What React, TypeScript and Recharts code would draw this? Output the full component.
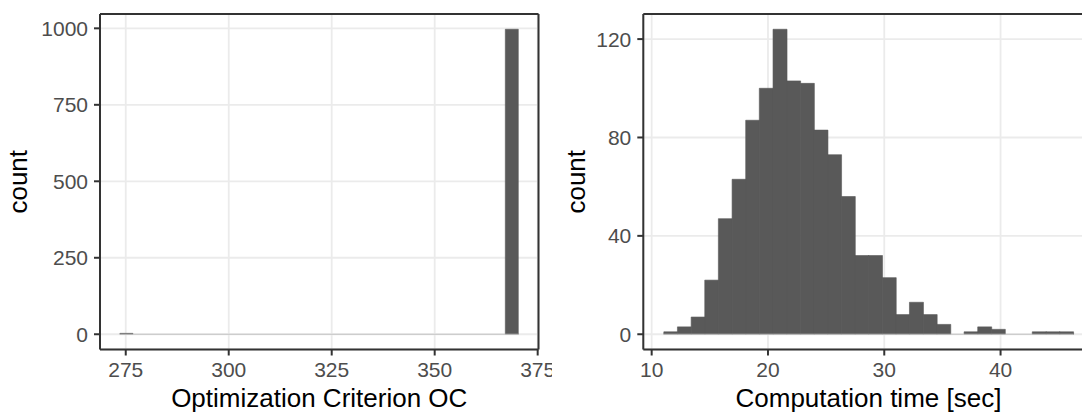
import { Bar, CartesianGrid, ComposedChart, ReferenceLine, XAxis, YAxis } from "recharts";

const FONT = '"Liberation Sans", Arial, Helvetica, sans-serif';
const INK = "#333333";
const FILL = "#595959";

// left panel: optimization criterion, 30 bins
const ocMids = [
  275.2, 278.43, 281.65, 284.88, 288.1, 291.33, 294.56, 297.78, 301.01, 304.23,
  307.46, 310.69, 313.91, 317.14, 320.36, 323.59, 326.82, 330.04, 333.27, 336.49,
  339.72, 342.95, 346.17, 349.4, 352.62, 355.85, 359.08, 362.3, 365.53, 368.75,
];
const ocCounts = [
  3, 0, 0, 0, 0, 0, 0, 0, 0, 0,
  0, 0, 0, 0, 0, 0, 0, 0, 0, 0,
  0, 0, 0, 0, 0, 0, 0, 0, 0, 997,
];
const ocTicksX = [275, 300, 325, 350, 375];
const ocMinorX = [287.5, 312.5, 337.5, 362.5];
const ocTicksY = [0, 250, 500, 750, 1000];
const ocMinorY = [125, 375, 625, 875];

// right panel: computation time, 30 bins
const timeMids = [
  11.63, 12.8, 13.98, 15.15, 16.32, 17.5, 18.67, 19.84, 21.02, 22.19,
  23.37, 24.54, 25.71, 26.89, 28.06, 29.23, 30.41, 31.58, 32.75, 33.93,
  35.1, 36.27, 37.45, 38.62, 39.79, 40.97, 42.14, 43.31, 44.49, 45.66,
];
const timeCounts = [
  1, 3, 7, 22, 47, 63, 87, 100, 124, 103,
  102, 83, 73, 56, 32, 32, 23, 8, 13, 8,
  4, 0, 1, 3, 2, 0, 0, 1, 1, 1,
];
const timeTicksX = [10, 20, 30, 40];
const timeMinorX = [15, 25, 35, 45];
const timeTicksY = [0, 40, 80, 120];
const timeMinorY = [20, 60, 100];

type PanelProps = {
  mids: number[];
  counts: number[];
  xDomain: [number, number];
  yDomain: [number, number];
  xTicks: number[];
  yTicks: number[];
  xMinor: number[];
  yMinor: number[];
  xTitle: string;
  left: number;
  width: number;
  yAxisWidth: number;
  rightPad: number;
  countX: number;
};

function Histogram(p: PanelProps) {
  const rows = p.mids.map((mid, i) => ({ mid, count: p.counts[i] }));
  const half = (p.mids[1] - p.mids[0]) / 2;
  const last = p.mids[p.mids.length - 1];
  const tick = { fontSize: 21, fill: "#4D4D4D", fontFamily: FONT };
  const line = { stroke: INK, strokeWidth: 2 };

  return (
    <div style={{ position: "absolute", left: p.left, top: 0, width: p.width, height: 414, overflow: "hidden" }}>
      <ComposedChart
        width={p.width}
        height={414}
        data={rows}
        margin={{ top: 13, right: p.rightPad - 1, bottom: 0, left: 0 }}
        barCategoryGap={0}
        barGap={0}
      >
        {/* minor grid sits on the top/right axes, which also draw the panel border */}
        <CartesianGrid xAxisId="top" yAxisId="right" stroke="#EBEBEB" strokeWidth={0.9} />
        <CartesianGrid stroke="#EBEBEB" strokeWidth={1.8} />
        <XAxis
          dataKey="mid"
          type="number"
          domain={p.xDomain}
          ticks={p.xTicks}
          interval={0}
          height={64.5}
          tickSize={6}
          tickMargin={6.3}
          tick={tick}
          tickLine={line}
          axisLine={line}
          label={{
            content: ({ viewBox }: any) => (
              <text
                x={viewBox.x + viewBox.width / 2}
                y={viewBox.y + 57.5}
                textAnchor="middle"
                fontSize={26}
                fontFamily={FONT}
                fill="#000"
              >
                {p.xTitle}
              </text>
            ),
          }}
        />
        <XAxis
          xAxisId="top"
          orientation="top"
          dataKey="mid"
          type="number"
          domain={p.xDomain}
          ticks={p.xMinor}
          interval={0}
          height={1}
          tick={false}
          tickLine={false}
          axisLine={line}
        />
        <YAxis
          type="number"
          domain={p.yDomain}
          ticks={p.yTicks}
          interval={0}
          width={p.yAxisWidth}
          tickSize={6}
          tickMargin={6}
          tick={tick}
          tickLine={line}
          axisLine={line}
          label={{
            content: ({ viewBox }: any) => {
              const x = viewBox.x + p.countX;
              const y = viewBox.y + viewBox.height / 2;
              return (
                <text x={x} y={y} transform={`rotate(-90 ${x} ${y})`} textAnchor="middle" fontSize={26} fontFamily={FONT} fill="#000">
                  count
                </text>
              );
            },
          }}
        />
        <YAxis
          yAxisId="right"
          orientation="right"
          type="number"
          domain={p.yDomain}
          ticks={p.yMinor}
          interval={0}
          width={1}
          tick={false}
          tickLine={false}
          axisLine={line}
        />
        <ReferenceLine
          segment={[
            { x: p.mids[0] - half, y: 0 },
            { x: last + half, y: 0 },
          ]}
          stroke="#C4C4C4"
          strokeWidth={1}
        />
        <Bar dataKey="count" fill={FILL} stroke={FILL} strokeWidth={0.6} isAnimationActive={false} />
      </ComposedChart>
    </div>
  );
}

export default function App() {
  return (
    <div style={{ position: "absolute", left: 0, top: 0, width: 1082, height: 414, overflow: "hidden", background: "#fff" }}>
      <Histogram
        mids={ocMids}
        counts={ocCounts}
        xDomain={[268.75, 375.2]}
        yDomain={[-49.85, 1046.85]}
        xTicks={ocTicksX}
        yTicks={ocTicksY}
        xMinor={ocMinorX}
        yMinor={ocMinorY}
        xTitle="Optimization Criterion OC"
        left={0}
        width={552}
        yAxisWidth={100}
        rightPad={13.5}
        countX={27}
      />
      <Histogram
        mids={timeMids}
        counts={timeCounts}
        xDomain={[9.28, 48.0]}
        yDomain={[-6.2, 130.2]}
        xTicks={timeTicksX}
        yTicks={timeTicksY}
        xMinor={timeMinorX}
        yMinor={timeMinorY}
        xTitle="Computation time [sec]"
        left={552}
        width={550}
        yAxisWidth={91.3}
        rightPad={8.4}
        countX={33}
      />
    </div>
  );
}
